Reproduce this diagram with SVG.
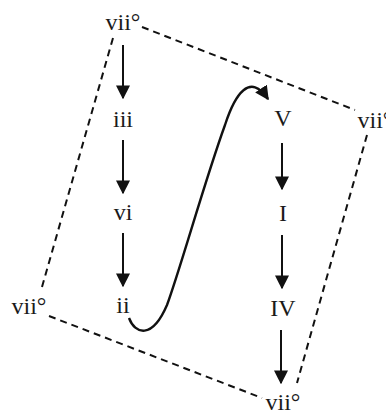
<svg xmlns="http://www.w3.org/2000/svg" width="386" height="412" viewBox="0 0 386 412">
<style>
text{font-family:"Liberation Serif","Times New Roman",serif;font-size:24px;fill:#1a1a1a;text-anchor:middle}
.d{stroke:#111;stroke-width:2;stroke-dasharray:7,5;fill:none}
.a{stroke:#111;stroke-width:2;fill:none;marker-end:url(#h)}
</style>
<defs>
<marker id="h" viewBox="0 0 10 10" refX="9" refY="5" markerWidth="14" markerHeight="14" orient="auto" markerUnits="userSpaceOnUse">
<path d="M0,0 L10,5 L0,10 z" fill="#111"/>
</marker>
</defs>
<g id="connectors">
<path class="d" d="M142,27 L355,110"/>
<path class="d" d="M113,38 L42,287"/>
<path class="d" d="M49,316 L262,398"/>
<path class="d" d="M367,135 L297,383"/>
<path class="a" d="M123,45 V98"/>
<path class="a" d="M123,140 V193"/>
<path class="a" d="M123,233 V286"/>
<path class="a" d="M282,143 V189"/>
<path class="a" d="M282,235 V288"/>
<path class="a" d="M281,330 V383"/>
<path class="a" style="stroke-width:2.4" d="M129,318 C135,334 152,340 167,305 C180,270 205,180 225,125 C235,94 250,72 268,99"/>
</g>
<g id="n-vii-top"><text x="123" y="30">vii°</text></g>
<g id="n-iii"><text x="123" y="127">iii</text></g>
<g id="n-vi"><text x="123" y="220">vi</text></g>
<g id="n-ii"><text x="123" y="313">ii</text></g>
<g id="n-V"><text x="283" y="126">V</text></g>
<g id="n-I"><text x="283" y="221">I</text></g>
<g id="n-IV"><text x="283" y="316">IV</text></g>
<g id="n-vii-bottom"><text x="283" y="410">vii°</text></g>
<g id="n-vii-right"><text x="375" y="128">vii°</text></g>
<g id="n-vii-left"><text x="29" y="314">vii°</text></g>
</svg>
